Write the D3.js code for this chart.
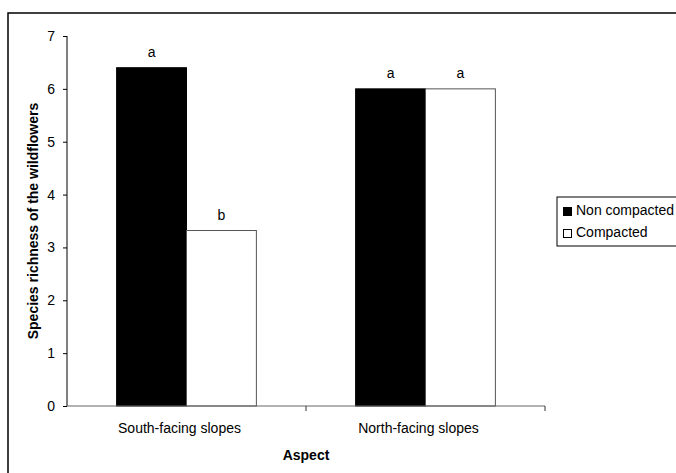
<!DOCTYPE html>
<html><head><meta charset="utf-8">
<script src="https://cdn.jsdelivr.net/npm/d3@7"></script>
<style>body{margin:0;background:#fff}svg{display:block;font-family:"Liberation Sans",Arial,sans-serif}</style>
</head><body><svg id="c" width="676" height="473"></svg>
<script>
const categories = ["South-facing slopes", "North-facing slopes"];
const seriesNames = ["Non compacted", "Compacted"];
const nonCompacted = [6.4, 6.0];
const compacted = [3.32, 6.0];
const nonCompactedLetters = ["a", "a"];
const compactedLetters = ["b", "a"];
const yTicks = [0, 1, 2, 3, 4, 5, 6, 7];
const seriesColors = ["#000000", "#ffffff"];

const svg = d3.select("#c");
const W = 676, H = 473;
const m = {left: 67, right: 131, top: 36, bottom: 67};

// outer chart border
svg.append("rect").attr("x", 8).attr("y", 13).attr("width", 720).attr("height", 520)
  .attr("fill", "none").attr("stroke", "#000").attr("stroke-width", 1.5);

const x = d3.scaleBand().domain(categories).range([m.left, W - m.right]).padding(0);
const x1 = d3.scaleBand().domain(seriesNames).range([0, x.bandwidth()]).paddingInner(0).paddingOuter(0.71);
const y = d3.scaleLinear().domain([0, 7]).range([H - m.bottom, m.top]);

const rows = categories.map((c, i) => ({
  cat: c,
  vals: [
    {s: seriesNames[0], v: nonCompacted[i], l: nonCompactedLetters[i], col: seriesColors[0]},
    {s: seriesNames[1], v: compacted[i], l: compactedLetters[i], col: seriesColors[1]}
  ]
}));

const g = svg.append("g").attr("font-size", 14);
const grp = g.selectAll("g.grp").data(rows).join("g").attr("class", "grp")
  .attr("transform", d => `translate(${x(d.cat)},0)`);
grp.selectAll("rect").data(d => d.vals).join("rect")
  .attr("x", d => x1(d.s)).attr("width", x1.bandwidth())
  .attr("y", d => y(d.v)).attr("height", d => y(0) - y(d.v))
  .attr("fill", d => d.col).attr("stroke", d => d.col === "#000000" ? "#000" : "#555").attr("stroke-width", 1);
grp.selectAll("text").data(d => d.vals).join("text")
  .attr("x", d => x1(d.s) + x1.bandwidth() / 2).attr("y", d => y(d.v) - 11)
  .attr("text-anchor", "middle").attr("fill", "#000").text(d => d.l);

// y axis
const ya = g.append("g").attr("transform", `translate(${m.left},0)`)
  .call(d3.axisLeft(y).tickValues(yTicks).tickFormat(d3.format("d")).tickSize(4).tickPadding(8));
ya.select(".domain").attr("stroke", "#000").attr("d", `M-0,${y(7)}H0V${y(0)}`);
ya.selectAll(".tick line").attr("stroke", "#000");
ya.selectAll("text").attr("font-size", 14).attr("font-family", null).attr("fill", "#000");

// x axis
const xa = g.append("g").attr("transform", `translate(0,${y(0)})`)
  .call(d3.axisBottom(x).tickSize(0).tickPadding(17));
xa.select(".domain").attr("stroke", "#666").attr("d", `M${m.left},0H${W - m.right}`);
xa.selectAll("text").attr("font-size", 14).attr("font-family", null).attr("fill", "#000").attr("dx", -7);
xa.selectAll("line.bound").data(categories).join("line").attr("class", "bound")
  .attr("x1", d => x(d) + x.bandwidth()).attr("x2", d => x(d) + x.bandwidth())
  .attr("y1", 0).attr("y2", 5).attr("stroke", "#333");

// axis titles
g.append("text").attr("x", (m.left + W - m.right) / 2).attr("y", 460)
  .attr("text-anchor", "middle").attr("font-weight", "bold").text("Aspect");
g.append("text").attr("transform", `translate(38,${(y(0) + y(7)) / 2}) rotate(-90)`)
  .attr("text-anchor", "middle").attr("font-weight", "bold").text("Species richness of the wildflowers");

// legend
const lg = svg.append("g").attr("font-size", 14);
lg.append("rect").attr("x", 557).attr("y", 197).attr("width", 140).attr("height", 49)
  .attr("fill", "#fff").attr("stroke", "#000").attr("stroke-width", 1);
const li = lg.selectAll("g.li").data(seriesNames).join("g").attr("class", "li")
  .attr("transform", (d, i) => `translate(563,${215 + i * 22})`);
li.append("rect").attr("x", 0.5).attr("y", -7.5).attr("width", 8).attr("height", 8)
  .attr("fill", (d, i) => seriesColors[i]).attr("stroke", "#000");
li.append("text").attr("x", 13).attr("y", 0).text(d => d);
</script></body></html>
